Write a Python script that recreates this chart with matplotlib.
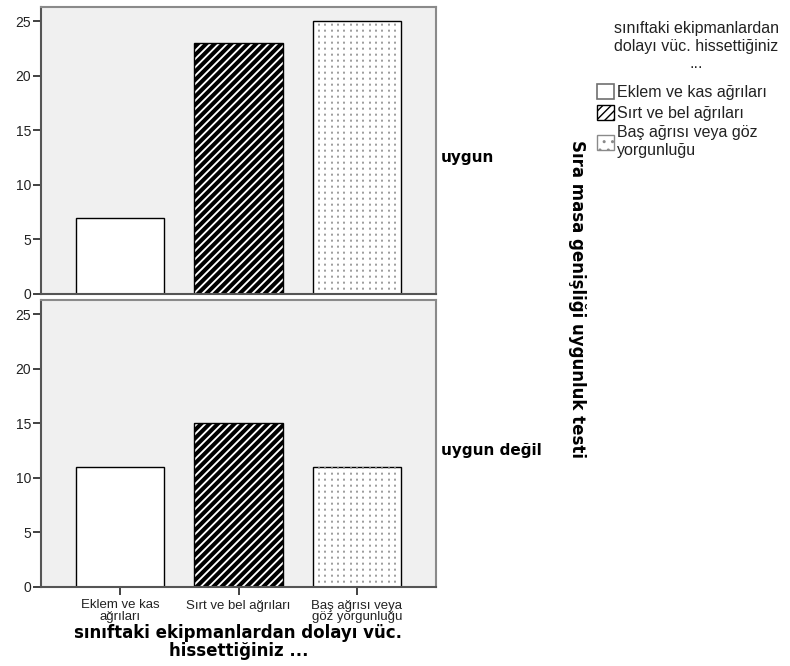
import numpy as np
import matplotlib
matplotlib.use("Agg")
import matplotlib.pyplot as plt
from matplotlib.patches import Patch

plt.rcParams["font.family"] = ["Liberation Sans", "DejaVu Sans"]

# veriler
kategoriler = ["Eklem ve kas\nağrıları", "Sırt ve bel ağrıları", "Baş ağrısı veya\ngöz yorgunluğu"]
lejant = ["Eklem ve kas ağrıları", "Sırt ve bel ağrıları", "Baş ağrısı veya göz\nyorgunluğu"]
lejant_baslik = "sınıftaki ekipmanlardan\ndolayı vüc. hissettiğiniz\n..."
satirlar = ["uygun", "uygun değil"]
uygun = [7, 23, 25]
uygun_degil = [11, 15, 11]

fig = plt.figure(figsize=(7.9, 6.66), dpi=100)
ax1 = fig.add_axes([41 / 790, 1 - 294 / 666, 395 / 790, 287 / 666])
ax2 = fig.add_axes([41 / 790, 1 - 587 / 666, 395 / 790, 287 / 666])

x = np.arange(len(kategoriler))
bold = ["DejaVu Sans"]
gen = 0.75


def nokta_doldur(ax, bar):
    # çubuğun içine gri noktalı dikey çizgiler
    sol = bar.get_x()
    xs = np.linspace(sol, sol + bar.get_width(), 15)[1:-1]
    ax.vlines(xs, 0, bar.get_height(), colors="#8c8c8c", linewidth=1.2,
              linestyles=[(1, (1.2, 2.4))], capstyle="butt")


for ax, degerler, ad in [(ax1, uygun, satirlar[0]), (ax2, uygun_degil, satirlar[1])]:
    ax.set_facecolor("#f0f0f0")
    ax.bar(x[0], degerler[0], gen, color="white", edgecolor="black", linewidth=1)
    with plt.rc_context({"hatch.linewidth": 2.9}):
        ax.bar(x[1], degerler[1], gen, color="white", edgecolor="black", hatch="////", linewidth=0)
    ax.bar(x[1], degerler[1], gen, fill=False, edgecolor="black", linewidth=1)
    b3 = ax.bar(x[2], degerler[2], gen, color="white", linewidth=0)
    nokta_doldur(ax, b3[0])
    ax.bar(x[2], degerler[2], gen, fill=False, edgecolor="black", linewidth=1)

    ax.set_xlim(-0.667, 2.667)
    ax.set_ylim(0, 26.3)
    ax.set_yticks([0, 5, 10, 15, 20, 25])
    ax.tick_params(axis="y", length=6, width=1.3, labelsize=10, color="#333333", labelcolor="#222222", pad=1)
    for s in ["top", "right"]:
        ax.spines[s].set_color("#8a8a8a")
        ax.spines[s].set_linewidth(1.5)
    for s in ["left", "bottom"]:
        ax.spines[s].set_color("#555555")
        ax.spines[s].set_linewidth(1.5)
    ax.text(1.012, 0.475, ad, transform=ax.transAxes, fontsize=11, fontweight="bold",
            family=bold, va="center", ha="left")

ax1.set_xticks([])
ax2.set_xticks(x)
ax2.set_xticklabels(kategoriler, fontsize=9.5, linespacing=0.95, color="#222222")
ax2.tick_params(axis="x", length=6, width=1.3, color="#333333", pad=3)

fig.text(238.5 / 790, 1 - 642 / 666, "sınıftaki ekipmanlardan dolayı vüc.\nhissettiğiniz ...",
         ha="center", va="center", fontsize=12, fontweight="bold", family=bold, linespacing=1.05)
fig.text(577 / 790, 1 - 299 / 666, "Sıra masa genişliği uygunluk testi", rotation=-90,
         ha="center", va="center", fontsize=12, fontweight="bold", family=bold)

# lejant başlığı ve kutuları
fig.text(696 / 790, 1 - 46 / 666, lejant_baslik, ha="center", va="center",
         multialignment="center", fontsize=11.5, linespacing=1.2, color="#222222")

with plt.rc_context({"hatch.linewidth": 2.9}):
    h2 = Patch(facecolor="white", edgecolor="black", hatch="////", linewidth=1)
with plt.rc_context({"hatch.linewidth": 1.0}):
    h3 = Patch(facecolor="white", edgecolor="#8a8a8a", hatch="..", linewidth=1)
h1 = Patch(facecolor="white", edgecolor="#707070", linewidth=1.2)

leg = fig.legend([h1, h2, h3], lejant, loc="upper left", bbox_to_anchor=(594 / 790, 1 - 81 / 666),
                 frameon=False, fontsize=11.5, handlelength=1.05, handleheight=1.05,
                 handletextpad=0.2, labelspacing=0.3, borderpad=0.2, borderaxespad=0)
for t in leg.get_texts():
    t.set_color("#222222")

fig.savefig("out.png", dpi=100)
